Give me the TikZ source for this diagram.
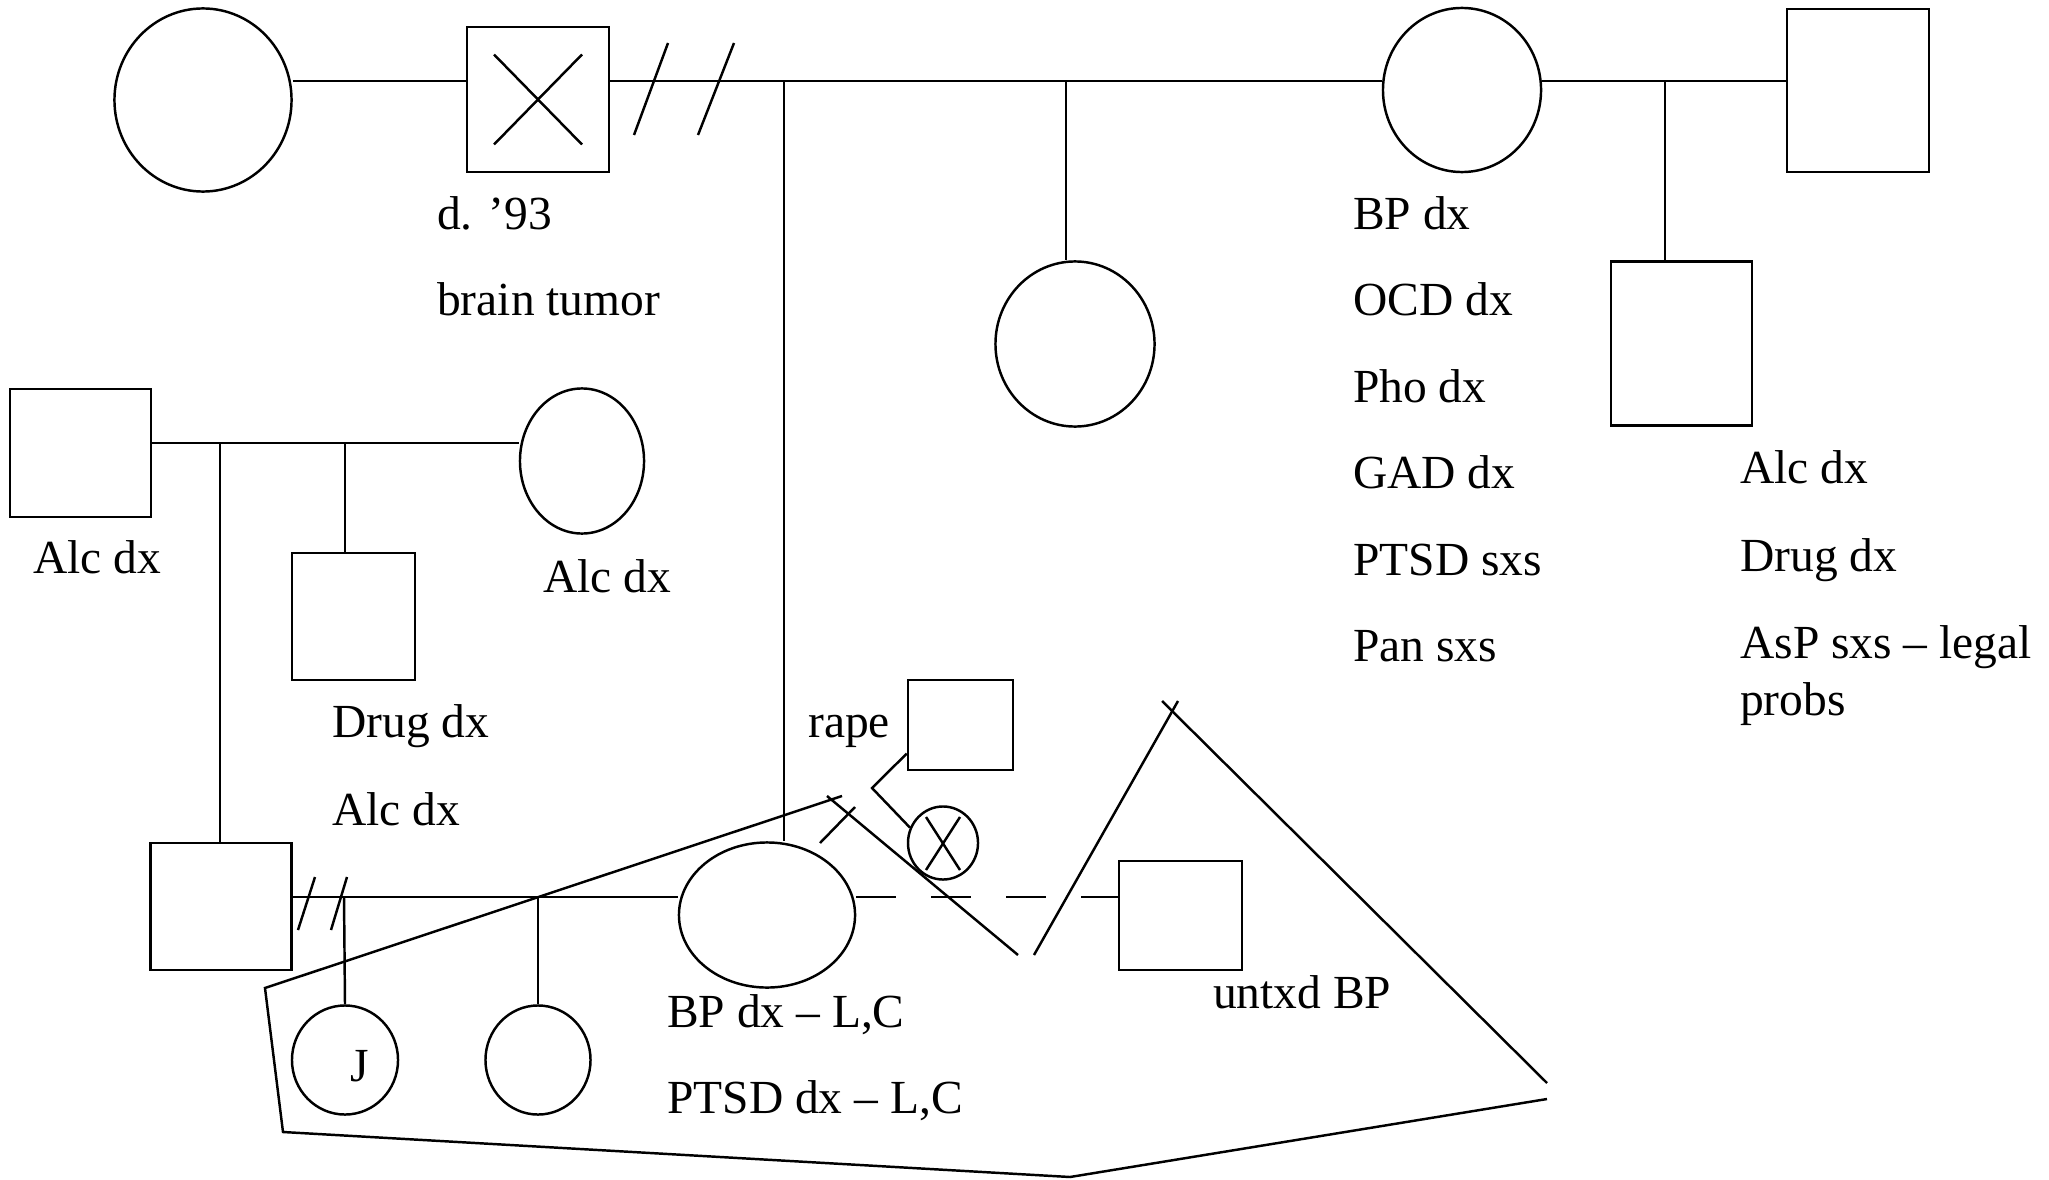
\documentclass[tikz,border=0pt]{standalone}
\usepackage{fontspec}
\setmainfont{Liberation Serif}
\usepackage{tikz}
\usetikzlibrary{shapes.geometric,positioning,calc}
\tikzset{
  male/.style 2 args={rectangle, draw, minimum width=#1, minimum height=#2, inner sep=0pt},
  female/.style 2 args={ellipse, draw, minimum width=#1, minimum height=#2, inner sep=0pt},
  lbl/.style={anchor=base west, inner sep=0pt, font=\fontsize{13.5}{16}\selectfont},
  cutoff/.style={dash pattern=on 0.4cm off 0.35cm},
}

\begin{document}
\begin{tikzpicture}[x=0.01cm, y=-0.01cm, line width=0.7pt]
    \useasboundingbox (0,0) rectangle (2049,1179);
    % sibship lines
    \coordinate (topY) at (0,81);
    \coordinate (lineL) at (0,443);
    \coordinate (lineB) at (0,897);
    \coordinate (dropMom) at (784,81);
    \coordinate (dropAunt) at (1066,81);
    \coordinate (dropHalf) at (1665,81);
    \coordinate (dropDad) at (220,443);
    \coordinate (dropUnc) at (345,443);
    \coordinate (dropJ) at (344,897);
    \coordinate (dropSis) at (538,897);
    \coordinate (bend) at (872,788);

    \node[female={1.77cm}{1.83cm}] (gmaA) at (203,100) {};
    \node[male={1.42cm}{1.45cm}] (gpa) at (538,99.5) {};
    \node[female={1.58cm}{1.64cm}] (gma) at (1462,90) {};
    \node[male={1.42cm}{1.63cm}] (stepgpa) at (1858,90.5) {};
    \node[male={1.41cm}{1.64cm}] (halfunc) at (1681.5,343.5) {};
    \node[female={1.59cm}{1.65cm}] (aunt) at (1075,344) {};
    \node[male={1.41cm}{1.28cm}] (pgpa) at (80.5,453) {};
    \node[female={1.24cm}{1.45cm}] (pgma) at (582,461) {};
    \node[male={1.23cm}{1.27cm}] (unc) at (353.5,616.5) {};
    \node[male={1.41cm}{1.27cm}] (dad) at (221,906.5) {};
    \node[female={1.76cm}{1.45cm}] (mom) at (767,915) {};
    \node[female={1.06cm}{1.09cm}] (kidJ) at (345,1060) {};
    \node[female={1.05cm}{1.09cm}] (sis) at (538,1060) {};
    \node[male={1.05cm}{0.90cm}] (rapist) at (960.5,725) {};
    \node[female={0.70cm}{0.73cm}] (preg) at (943,843) {};
    \node[male={1.23cm}{1.09cm}] (partner) at (1180.5,915.5) {};

    \draw (gmaA.east |- topY) -- (gpa.west |- topY);
    \draw (gpa.east |- topY) -- (gma.west |- topY);
    \draw (gma.east |- topY) -- (stepgpa.west |- topY);
    \draw (dropMom) -- (dropMom |- mom.north);
    \draw (dropAunt) -- (dropAunt |- aunt.north);
    \draw (dropHalf) -- (dropHalf |- halfunc.north);
    \draw (pgpa.east |- lineL) -- (pgma.west |- lineL);
    \draw (dropDad) -- (dropDad |- dad.north);
    \draw (dropUnc) -- (dropUnc |- unc.north);
    \draw (dad.east |- lineB) -- (mom.west |- lineB);
    \draw (dropJ) -- (kidJ.north);
    \draw (dropSis) -- (sis.north);
    \draw[cutoff] (mom.east |- lineB) -- (partner.west |- lineB);
    \draw (rapist.208) -- (bend) -- (preg.155);

    % divorce marks and crosses
    \draw (634,135) -- (668,43);
    \draw (698,135) -- (734,43);
    \draw (298,930) -- (315,877);
    \draw (331,930) -- (347,877);
    \draw (gpa.center) ++(-44,-45) -- ++(88,90);
    \draw (gpa.center) ++(44,-45) -- ++(-88,90);
    \draw (preg.center) ++(-17,-26) -- ++(34,53);
    \draw (preg.center) ++(17,-26) -- ++(-34,53);

    % household
    \draw (1547,1099) -- (1070,1177) -- (283,1132) -- (265,988) -- (842,796);
    \draw (827,796) -- (1018,955);
    \draw (820,843) -- (855,807);
    \draw (1034,955) -- (1178,701);
    \draw (1162,701) -- (1547,1083);

    \node[lbl, anchor=base] (jName) at ($(kidJ.center)+(15,21)$) {J};
    \node[lbl] (gpaD) at (436,229) {d. ’93};
    \node[lbl] (gpaC) at (436,315) {brain tumor};
    \node[lbl] (gma1) at (1352,229) {BP dx};
    \node[lbl] (gma2) at (1352,315) {OCD dx};
    \node[lbl] (gma3) at (1352,402) {Pho dx};
    \node[lbl] (gma4) at (1352,488) {GAD dx};
    \node[lbl] (gma5) at (1352,575) {PTSD sxs};
    \node[lbl] (gma6) at (1352,661) {Pan sxs};
    \node[lbl] (half1) at (1739,483) {Alc dx};
    \node[lbl] (half2) at (1739,571) {Drug dx};
    \node[lbl] (half3) at (1739,658) {AsP sxs – legal};
    \node[lbl] (half4) at (1739,715) {probs};
    \node[lbl] (pgpa1) at (32,573) {Alc dx};
    \node[lbl] (pgma1) at (542,592) {Alc dx};
    \node[lbl] (unc1) at (331,737) {Drug dx};
    \node[lbl] (unc2) at (331,825) {Alc dx};
    \node[lbl] (rape) at (807,737) {rape};
    \node[lbl] (mom1) at (666,1027) {BP dx – L,C};
    \node[lbl] (mom2) at (666,1113) {PTSD dx – L,C};
    \node[lbl] (part1) at (1212,1008) {untxd BP};
\end{tikzpicture}
\end{document}
